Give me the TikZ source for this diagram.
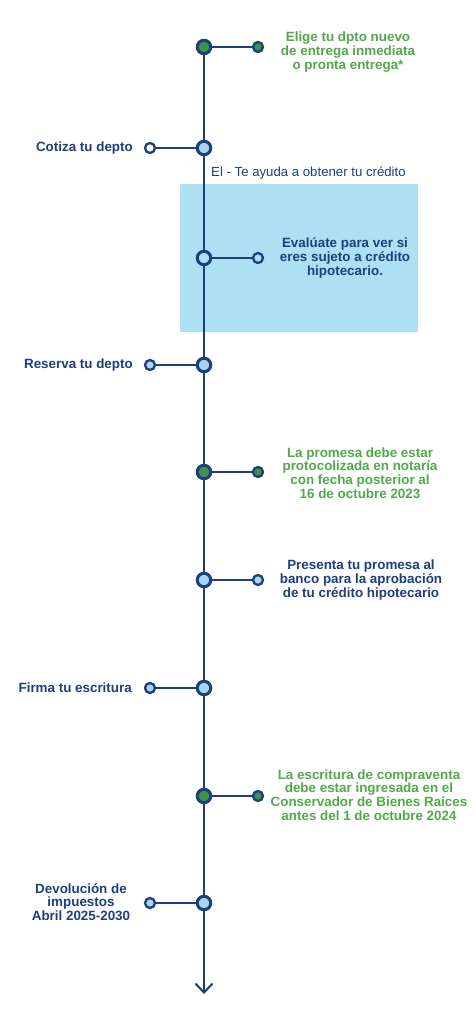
\documentclass[tikz,border=0pt]{standalone}
\usepackage{fontspec}
\setmainfont{Liberation Sans}
\usetikzlibrary{arrows.meta}
\definecolor{navy}{HTML}{1E3F7D}
\definecolor{tgreen}{HTML}{52A94A}
\definecolor{cgreen}{HTML}{3E9446}
\definecolor{lblue}{HTML}{A8D5F2}
\definecolor{boxblue}{HTML}{AEE0F4}
\tikzset{
  bigdot/.style={circle,draw=navy,line width=3pt,minimum size=13.5pt,inner sep=0pt},
  smalldot/.style={circle,draw=navy,line width=2.3pt,minimum size=10pt,inner sep=0pt},
  link/.style={draw=navy,line width=2.2pt},
  btext/.style={font=\fontsize{13.4}{13.7}\selectfont\bfseries,align=center,inner sep=0pt},
  gtext/.style={btext,text=tgreen},
  ntext/.style={btext,text=navy},
}
\begin{document}
\begin{tikzpicture}[x=1pt,y=-1pt]
\useasboundingbox (0,0) rectangle (475,1024);
\fill[white] (0,0) rectangle (475,1024);
\fill[boxblue] (180,184) rectangle (418,332);
% main nodes
\node[bigdot,fill=cgreen] (m1) at (204,47) {};
\node[bigdot,fill=lblue] (m2) at (204,148) {};
\node[bigdot,fill=boxblue] (m3) at (204,258) {};
\node[bigdot,fill=lblue] (m4) at (204,365) {};
\node[bigdot,fill=cgreen] (m5) at (204,472) {};
\node[bigdot,fill=lblue] (m6) at (204,580) {};
\node[bigdot,fill=lblue] (m7) at (204,688) {};
\node[bigdot,fill=cgreen] (m8) at (204,796) {};
\node[bigdot,fill=lblue] (m9) at (204,903) {};
\coordinate (end) at (204,994);
% side nodes
\node[smalldot,fill=cgreen] (s1) at (258,47) {};
\node[smalldot,fill=white] (s2) at (150,148) {};
\node[smalldot,fill=boxblue] (s3) at (258,258) {};
\node[smalldot,fill=lblue] (s4) at (150,365) {};
\node[smalldot,fill=cgreen] (s5) at (258,472) {};
\node[smalldot,fill=lblue] (s6) at (258,580) {};
\node[smalldot,fill=lblue] (s7) at (150,688) {};
\node[smalldot,fill=cgreen] (s8) at (258,796) {};
\node[smalldot,fill=lblue] (s9) at (150,903) {};
% connectors
\draw[link] (m1) -- (m2);
\draw[link] (m2) -- (m3);
\draw[link] (m3) -- (m4);
\draw[link] (m4) -- (m5);
\draw[link] (m5) -- (m6);
\draw[link] (m6) -- (m7);
\draw[link] (m7) -- (m8);
\draw[link] (m8) -- (m9);
\draw[link,-{Straight Barb[length=9pt,width=17pt,line width=2pt]}] (m9) -- (end);
\foreach \i in {1,...,9} {\draw[link] (m\i) -- (s\i);}
% texts
\node[gtext,anchor=north] (t1) at (348,32) {Elige tu dpto nuevo\\de entrega inmediata\\o pronta entrega*};
\node[ntext,anchor=east] (t2) at (133,148) {Cotiza tu depto};
\node[inner sep=0pt,anchor=west,text=navy,font=\fontsize{13.2}{14}\selectfont] (t2b) at (211,173) {El - Te ayuda a obtener tu crédito};
\node[ntext,anchor=center] (t3) at (345,258) {Evalúate para ver si\\eres sujeto a crédito\\hipotecario.};
\node[ntext,anchor=east] (t4) at (133,365) {Reserva tu depto};
\node[gtext,anchor=center] (t5) at (360,473) {La promesa debe estar\\protocolizada en notaría\\con fecha posterior al\\16 de octubre 2023};
\node[ntext,anchor=center] (t6) at (361,580) {Presenta tu promesa al\\banco para la aprobación\\de tu crédito hipotecario};
\node[ntext,anchor=east] (t7) at (132,688) {Firma tu escritura};
\node[gtext,anchor=center] (t8) at (369,795) {La escritura de compraventa\\debe estar ingresada en el\\Conservador de Bienes Raíces\\antes del 1 de octubre 2024};
\node[ntext,anchor=center] (t9) at (81,902) {Devolución de\\impuestos\\Abril 2025-2030};
\end{tikzpicture}
\end{document}
